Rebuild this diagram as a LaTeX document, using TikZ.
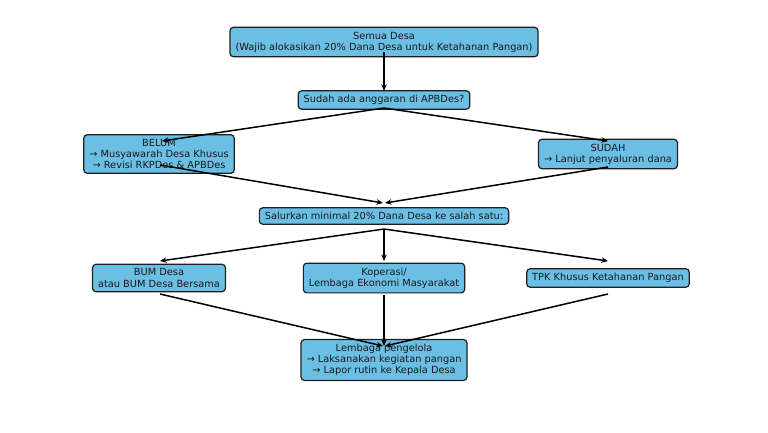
\documentclass[tikz,border=0pt]{standalone}
\usepackage{fontspec}
\setmainfont{DejaVu Sans}
\usetikzlibrary{arrows.meta,calc}
\definecolor{boxblue}{RGB}{107,191,228}
\definecolor{boxline}{RGB}{30,30,30}
\begin{document}
\begin{tikzpicture}[x=1pt,y=-1pt,
  box/.style={draw=boxline,fill=boxblue,line width=1.2pt,rounded corners=3.5pt,
    align=center,inner xsep=5.5pt,inner ysep=4.5pt,
    font=\fontsize{9.8}{11.2}\selectfont,text=black!90},
  arr/.style={line width=1.5pt,-{Stealth[length=6.5pt,width=5.5pt]}}]
\useasboundingbox (0,0) rectangle (768,432);
\node[box] (semua) at (384,42) {Semua Desa\\(Wajib alokasikan 20\% Dana Desa untuk Ketahanan Pangan)};
\node[box] (sudah) at (384,100) {Sudah ada anggaran di APBDes?};
\node[box] (belum) at (159,154) {BELUM\\→ Musyawarah Desa Khusus\\→ Revisi RKPDes \& APBDes};
\node[box] (sudahya) at (608,154) {SUDAH\\→ Lanjut penyaluran dana};
\node[box] (salur) at (384,216) {Salurkan minimal 20\% Dana Desa ke salah satu:};
\node[box] (bum) at (159,278) {BUM Desa\\atau BUM Desa Bersama};
\node[box] (kop) at (384,278) {Koperasi/\\Lembaga Ekonomi Masyarakat};
\node[box] (tpk) at (608,278) {TPK Khusus Ketahanan Pangan};
\node[box] (lemb) at (384,360) {Lembaga pengelola\\→ Laksanakan kegiatan pangan\\→ Lapor rutin ke Kepala Desa};
\draw[arr] ([yshift=-10pt]semua.center) -- ([yshift=9pt]sudah.center);
\draw[arr] ([yshift=-8pt]sudah.center) -- ([xshift=3pt,yshift=13pt]belum.center);
\draw[arr] ([yshift=-8pt]sudah.center) -- ([yshift=13pt]sudahya.center);
\draw[arr] ([xshift=1pt,yshift=-11pt]belum.center) -- ([xshift=-1pt,yshift=13pt]salur.center);
\draw[arr] ([yshift=-13pt]sudahya.center) -- ([xshift=1pt,yshift=13pt]salur.center);
\draw[arr] ([yshift=-13pt]salur.center) -- ([xshift=1pt,yshift=17pt]bum.center);
\draw[arr] ([yshift=-13pt]salur.center) -- ([yshift=17pt]kop.center);
\draw[arr] ([yshift=-13pt]salur.center) -- ([yshift=17pt]tpk.center);
\draw[arr] ([xshift=1pt,yshift=-16pt]bum.center) -- ([xshift=-1pt,yshift=14pt]lemb.center);
\draw[arr] ([yshift=-17pt]kop.center) -- ([yshift=14pt]lemb.center);
\draw[arr] ([yshift=-16pt]tpk.center) -- ([xshift=1pt,yshift=14pt]lemb.center);
\end{tikzpicture}
\end{document}
